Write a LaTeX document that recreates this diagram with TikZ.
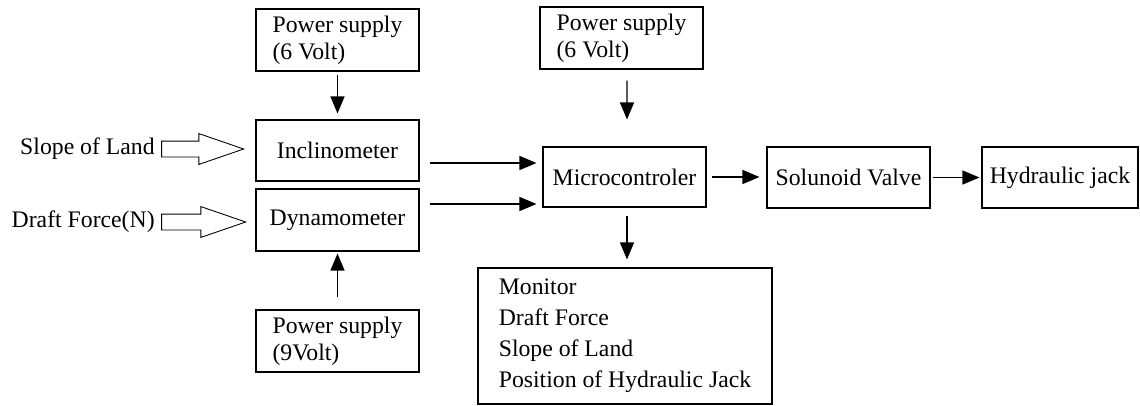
\documentclass[tikz,border=0pt]{standalone}
\usepackage{fontspec}
\setmainfont{Liberation Serif}
\usetikzlibrary{arrows.meta,shapes.arrows}

\begin{document}
\begin{tikzpicture}[
    >={Triangle[length=0.34cm,width=0.28cm]},
    block/.style={draw,line width=0.6pt,minimum width=3.26cm,minimum height=1.22cm,
      inner sep=0pt,font=\fontsize{13.5}{15.4}\selectfont},
    supply/.style={block,align=left,minimum height=1.24cm},
    flow/.style={->,line width=0.7pt},
    inlabel/.style={anchor=east,inner sep=0pt,font=\fontsize{13.5}{15.4}\selectfont},
    hollow/.style={draw,single arrow,line width=0.5pt,minimum height=1.64cm,
      minimum width=0.6cm,single arrow head extend=0.15cm,
      single arrow tip angle=38,inner xsep=0pt,inner ysep=0.15cm,anchor=tip},
  ]
    \useasboundingbox (0,0) rectangle (22.8,-8.1);

    % sensors and their supplies
    \node[supply] (ps1) at (6.75,-0.80) {Power supply\\(6 Volt)};
    \node[block] (incl) at (6.75,-3.01) {Inclinometer};
    \node[block,minimum height=1.24cm] (dyn) at (6.75,-4.40) {Dynamometer};
    \node[supply] (ps3) at (6.75,-6.82) {Power supply\\(9Volt)};

    \node[inlabel] (slope) at (3.10,-2.98) {Slope of Land};
    \node[inlabel] (draft) at (3.10,-4.44) {Draft Force(N)};
    \node[hollow] (slopearrow) at (4.90,-2.98) {};
    \node[hollow,minimum height=1.68cm] (draftarrow) at (4.94,-4.44) {};

    % control chain
    \node[supply] (ps2) at (12.43,-0.76) {Power supply\\(6 Volt)};
    \node[block,minimum height=1.2cm] (micro) at (12.49,-3.54) {Microcontroler};
    \node[block] (valve) at (16.97,-3.55) {Solunoid Valve};
    \node[block,minimum width=3.12cm] (jack) at (21.2,-3.55) {Hydraulic jack};
    \node[block,minimum width=5.88cm,minimum height=2.72cm,align=left,
      font=\fontsize{13.5}{17.6}\selectfont] (monitor) at (12.5,-6.72)
      {Monitor\\Draft Force\\Slope of Land\\Position of Hydraulic Jack};

    \draw[flow,shorten <=0.06cm,shorten >=0.12cm] (ps1) -- (incl);
    \draw[flow,shorten <=0.24cm,shorten >=0.04cm] (ps3) -- (dyn);
    \draw[flow,shorten <=0.22cm,shorten >=0.54cm] ([xshift=0.11cm]ps2.south) -- ([xshift=0.05cm]micro.north);
    \draw[flow,shorten <=0.2cm,shorten >=0.12cm] ([yshift=-0.25cm]incl.east) -- ([yshift=-0.25cm]incl.east -| micro.west);
    \draw[flow,shorten <=0.2cm,shorten >=0.12cm] ([yshift=0.32cm]dyn.east) -- ([yshift=0.32cm]dyn.east -| micro.west);
    \draw[flow,shorten <=0.1cm,shorten >=0.14cm] (micro.east) -- (micro.east -| valve.west);
    \draw[flow,shorten <=0.04cm,shorten >=0.04cm] (valve.east) -- (valve.east -| jack.west);
    \draw[flow,shorten <=0.16cm,shorten >=0.16cm] ([xshift=0.05cm]micro.south) -- ([xshift=0.05cm]micro.south |- monitor.north);
  \end{tikzpicture}
\end{document}
